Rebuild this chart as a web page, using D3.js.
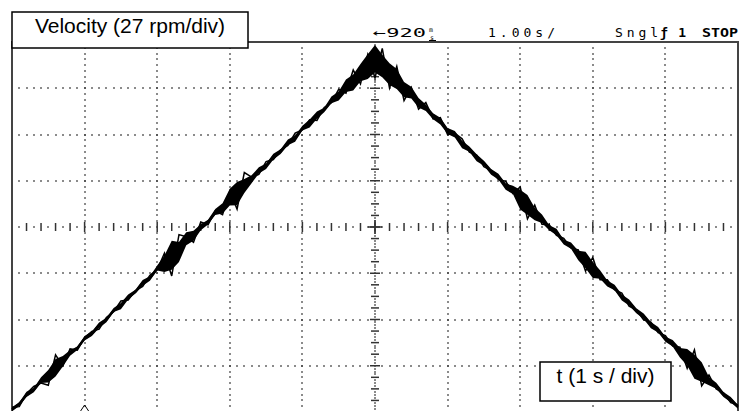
<!DOCTYPE html>
<html>
<head>
<meta charset="utf-8">
<script src="https://cdn.jsdelivr.net/npm/d3@7"></script>
<style>
  body { margin: 0; background: #fff; }
</style>
</head>
<body>
<div id="chart"></div>
<script>
// scope capture, one sample every 0.1 s
var sampleStep = 0.1;

// velocity in rpm (27 rpm/div, bottom of screen = 0)
var velocity = [
  1.5, 4.8, 9.9, 13.0, 18.3, 21.2, 26.5, 29.1, 34.6, 37.4,
  42.8, 45.6, 50.9, 53.8, 59.2, 62.0, 67.3, 70.1, 75.5, 78.2,
  83.6, 86.4, 92.0, 94.6, 100.2, 102.8, 108.1, 111.0, 116.4, 119.1,
  124.7, 127.3, 132.8, 135.5, 141.0, 143.7, 149.1, 151.9, 157.3, 160.0,
  165.5, 168.2, 173.7, 176.4, 181.9, 184.6, 190.1, 192.7, 198.3, 200.9,
  206.2, 202.4, 197.0, 194.2, 188.8, 186.1, 180.6, 177.9, 172.5, 169.8,
  164.4, 161.7, 156.3, 153.6, 148.2, 145.5, 140.0, 137.3, 131.9, 129.2,
  123.8, 121.1, 115.7, 113.0, 107.6, 104.9, 99.4, 96.7, 91.3, 88.6,
  83.2, 80.5, 75.1, 72.4, 66.9, 64.2, 58.8, 56.1, 50.7, 48.0,
  42.6, 39.9, 34.5, 31.8, 26.4, 23.7, 18.2, 15.5, 10.1, 7.4,
  3.0
];

// half width of the noise around the trace, rpm
var noise = [
  1.5, 1.5, 2, 1.5, 2, 4, 7, 4, 2, 1.5,
  2, 1.5, 2, 2, 1.5, 2, 2, 1.5, 2, 2,
  2, 5, 9, 8, 5, 3, 2, 2, 2.5, 4,
  6, 7, 5, 3, 2, 2, 2.5, 2, 2, 2.5,
  2, 2.5, 2.5, 2, 2.5, 3, 4, 5, 6, 8,
  8, 7, 7, 6, 5, 4, 3, 2.5, 2.5, 2.5,
  2.5, 2.5, 2.5, 2, 2.5, 2, 2.5, 2, 2.5, 3,
  6, 6, 4, 3, 2, 2.5, 2, 2.5, 3, 5,
  5, 3, 2.5, 2, 2, 2.5, 2, 2, 2.5, 2,
  2, 2.5, 3, 5, 7, 6, 3, 2.5, 2, 2,
  1.5
];

// signed spike seen at each sample, as a share of the noise half width
var spike = [
  0.6, -0.8, 0.3, 0.9, -0.5, -1, 0.7, -0.4, 0.8, -0.6,
  0.2, 0.7, -0.9, 0.5, -0.3, 1, -0.7, 0.4, -0.8, 0.6,
  -0.2, 0.9, -1, 0.8, 0.3, -0.9, 1, -0.6, 0.3, -0.7,
  0.5, -0.9, 1, 0.4, -0.8, 0.9, -0.5, 0.4, -0.6, 0.8,
  -0.3, 0.7, -1, 0.5, -0.4, 0.9, -0.7, 1, -0.8, 0.7,
  -1, 1, -0.8, 0.9, -1, 0.6, -0.9, 0.8, -0.4, 0.6,
  -0.7, 0.3, 0.9, -0.7, 0.5, -0.8, 0.3, -0.6, 0.8, -0.4,
  0.9, -1, 0.9, -0.8, 0.6, -0.5, 0.7, -0.3, 0.8, -0.9,
  1, -0.8, 0.6, -0.4, 0.9, -0.7, 0.3, -0.8, 0.5, -0.6,
  0.7, -0.4, 0.8, -0.9, 1, -1, 0.8, -0.6, 0.4, -0.7,
  0.5
];

var divisionsX = 10,
    divisionsY = 8,
    secPerDiv = 1,
    rpmPerDiv = 27;

var titleText = "Velocity (27 rpm/div)",
    timeText = "t (1 s / div)",
    statusDelay = "\u2190920",
    statusBase = "1.00s/",
    statusMode = "Sngl",
    statusTrig = "\u01921",
    statusRun = "STOP";

var config = {
  width: 745,
  height: 411,
  screen: { left: 12, top: 42, right: 738, bottom: 412 },
  ink: '#000',
  dots: '#333'
};

var svg = d3.select('#chart').append('svg')
    .attr('width', config.width)
    .attr('height', config.height)
    .style('display', 'block');

var x = d3.scaleLinear()
    .domain([0, divisionsX * secPerDiv])
    .range([config.screen.left, config.screen.right]);

var y = d3.scaleLinear()
    .domain([0, divisionsY * rpmPerDiv])
    .range([config.screen.bottom, config.screen.top]);

var grid = svg.append('g').attr('class', 'grid');

function dot(px, py) {
  grid.append('rect')
      .attr('x', Math.round(px) - 0.75)
      .attr('y', Math.round(py) - 0.75)
      .attr('width', 1.5)
      .attr('height', 1.5)
      .attr('fill', config.dots);
}

function bar(x1, y1, x2, y2) {
  grid.append('line')
      .attr('x1', x1).attr('y1', y1)
      .attr('x2', x2).attr('y2', y2)
      .attr('stroke', '#333')
      .attr('stroke-width', 1.5);
}

// dotted vertical graticule lines
d3.range(1, divisionsX).forEach(function(i) {
  if (i === divisionsX / 2) { return; }
  d3.range(0, divisionsY * 8 + 1).forEach(function(j) {
    dot(x(i * secPerDiv), y(j / 8 * rpmPerDiv));
  });
});

// dotted horizontal graticule lines
d3.range(1, divisionsY).forEach(function(k) {
  if (k === divisionsY / 2) { return; }
  d3.range(0, divisionsX * 10 + 1).forEach(function(m) {
    dot(x(m / 10 * secPerDiv), y(k * rpmPerDiv));
  });
});

// centre axes with minor ticks
var cx = x(divisionsX / 2 * secPerDiv),
    cy = y(divisionsY / 2 * rpmPerDiv);

d3.range(0, divisionsX * 10 + 1).forEach(function(m) {
  var px = x(m / 10 * secPerDiv);
  if (m % 2 === 0) {
    var h = (m % 10 === 0) ? 5 : 4;
    bar(px, cy - h, px, cy + h);
  } else {
    dot(px, cy);
  }
});

d3.range(0, divisionsY * 16 + 1).forEach(function(j) {
  var py = y(j / 16 * rpmPerDiv);
  if (j % 4 === 0) {
    var w = (j % 16 === 0) ? 5 : 4;
    bar(cx - w, py, cx + w, py);
  } else {
    dot(cx, py);
  }
});
bar(cx - 7, cy, cx + 7, cy);
bar(cx, cy - 7, cx, cy + 7);

// screen frame
svg.append('path')
    .attr('d', 'M' + config.screen.left + ',' + config.height +
               'V' + config.screen.top +
               'H' + config.screen.right +
               'V' + config.height)
    .attr('fill', 'none')
    .attr('stroke', '#444')
    .attr('stroke-width', 2);

// trace
var samples = velocity.map(function(v, i) {
  return { t: i * sampleStep, v: v, n: noise[i], s: spike[i] };
});

var trace = svg.append('g').attr('class', 'trace');

trace.append('path')
    .datum(samples)
    .attr('d', d3.area()
        .x(function(d) { return x(d.t); })
        .y0(function(d) { return y(d.v - d.n * (0.4 + 0.6 * Math.abs(d.s))); })
        .y1(function(d, i) { return y(d.v + d.n * (0.4 + 0.6 * Math.abs(samples[(i + 1) % samples.length].s))); }))
    .attr('fill', config.ink);

trace.append('path')
    .datum(samples)
    .attr('d', d3.line()
        .x(function(d) { return x(d.t); })
        .y(function(d) { return y(d.v + d.n * d.s * 1.4); }))
    .attr('fill', 'none')
    .attr('stroke', config.ink)
    .attr('stroke-width', 1.5);

trace.append('path')
    .datum(samples)
    .attr('d', d3.line()
        .x(function(d) { return x(d.t); })
        .y(function(d) { return y(d.v); }))
    .attr('fill', 'none')
    .attr('stroke', config.ink)
    .attr('stroke-width', 2.2);

// trigger position marker
svg.append('path')
    .attr('d', 'M' + (x(1) - 4) + ',' + (config.height) + 'L' + x(1) + ',' + (config.height - 6) +
               'L' + (x(1) + 4) + ',' + config.height)
    .attr('fill', 'none')
    .attr('stroke', config.ink)
    .attr('stroke-width', 1);

// status line
var statusLine = svg.append('g')
    .attr('font-family', '"DejaVu Sans Mono", monospace')
    .attr('font-size', 13)
    .attr('fill', config.ink);

statusLine.append('text').attr('x', 373).attr('y', 37)
    .attr('textLength', 53).attr('lengthAdjust', 'spacingAndGlyphs').text(statusDelay);
statusLine.append('text').attr('x', 429).attr('y', 32).attr('font-size', 6.5).text('m');
statusLine.append('text').attr('x', 430).attr('y', 39.5).attr('font-size', 6.5).text('s');
statusLine.append('line').attr('x1', 429).attr('x2', 436).attr('y1', 40.5).attr('y2', 40.5)
    .attr('stroke', config.ink).attr('stroke-width', 1);
statusLine.append('text').attr('x', 488).attr('y', 37)
    .attr('textLength', 67).attr('lengthAdjust', 'spacing').text(statusBase);
statusLine.append('text').attr('x', 615).attr('y', 37)
    .attr('textLength', 43).attr('lengthAdjust', 'spacing').text(statusMode);
statusLine.append('text').attr('x', 660).attr('y', 37).attr('font-weight', 'bold')
    .attr('textLength', 26).attr('lengthAdjust', 'spacing').text(statusTrig);
statusLine.append('text').attr('x', 702).attr('y', 37).attr('font-weight', 'bold')
    .attr('textLength', 36).attr('lengthAdjust', 'spacingAndGlyphs').text(statusRun);

// label boxes
function labelBox(x0, y0, w, h, txt, baseline) {
  svg.append('rect')
      .attr('x', x0).attr('y', y0)
      .attr('width', w).attr('height', h)
      .attr('fill', '#fff')
      .attr('stroke', config.ink)
      .attr('stroke-width', 1.5);
  svg.append('text')
      .attr('x', x0 + w / 2).attr('y', baseline)
      .attr('text-anchor', 'middle')
      .attr('font-family', 'Arial, "Liberation Sans", sans-serif')
      .attr('font-size', 21)
      .attr('fill', config.ink)
      .text(txt);
}

labelBox(12, 12, 236, 36, titleText, 33);
labelBox(540, 362, 131, 39, timeText, 383);
</script>
</body>
</html>
